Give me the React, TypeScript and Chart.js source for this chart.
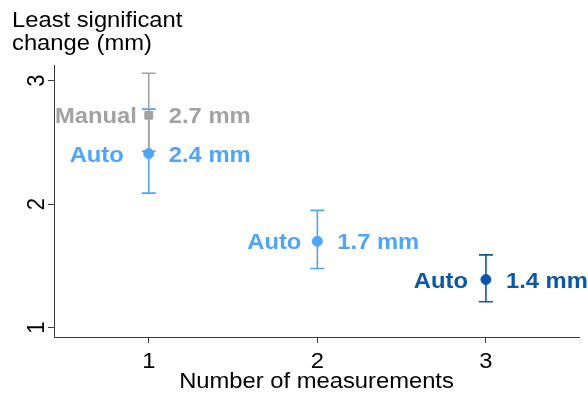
import React, { useEffect, useRef } from "react";
import { Chart, registerables } from "chart.js";

Chart.register(...registerables);

// ---- data ----
const xTicks = [1, 2, 3];
const yTicks = [1, 2, 3];

const autoX = [1, 2, 3];
const autoMean = [2.41, 1.70, 1.39];
const autoLow = [2.09, 1.48, 1.21];
const autoHigh = [2.77, 1.95, 1.59];
const autoValueLabels = ["2.4 mm", "1.7 mm", "1.4 mm"];

const manualX = [1];
const manualMean = [2.72];
const manualLow = [2.43];
const manualHigh = [3.06];
const manualValueLabels = ["2.7 mm"];

const yTitleLines = ["Least significant", "change (mm)"];
const xTitle = "Number of measurements";

// ---- style ----
const GREY = "#a2a2a2";
const LIGHT = "#4ea6fb";
const DARK = "#0b56a6";
const autoColors = [LIGHT, LIGHT, DARK];
const autoLeftGap = [25, 16, 18];
const manualLeftGap = [12];
const FONT = "'Liberation Sans', Arial, sans-serif";
const SX = 1.08;

function stretchedText(ctx: CanvasRenderingContext2D, text: string, x: number, y: number, align: CanvasTextAlign, font: string, color: string) {
  ctx.save();
  ctx.font = font;
  ctx.fillStyle = color;
  ctx.textBaseline = "alphabetic";
  ctx.translate(x, y);
  ctx.scale(SX, 1);
  ctx.textAlign = align;
  ctx.fillText(text, 0, 0);
  ctx.restore();
}

const overlayPlugin = {
  id: "overlay",
  beforeDatasetsDraw(chart: any) {
    const ctx: CanvasRenderingContext2D = chart.ctx;
    const xs = chart.scales.x;
    const ys = chart.scales.y;
    const bar = (x: number, lo: number, hi: number, color: string) => {
      const px = xs.getPixelForValue(x);
      const pl = ys.getPixelForValue(lo);
      const ph = ys.getPixelForValue(hi);
      ctx.save();
      ctx.strokeStyle = color;
      ctx.lineWidth = 1.6;
      ctx.beginPath();
      ctx.moveTo(px, pl);
      ctx.lineTo(px, ph);
      ctx.moveTo(px - 7, pl);
      ctx.lineTo(px + 7, pl);
      ctx.moveTo(px - 7, ph);
      ctx.lineTo(px + 7, ph);
      ctx.stroke();
      ctx.restore();
    };
    autoX.forEach((x, i) => bar(x, autoLow[i], autoHigh[i], autoColors[i]));
    manualX.forEach((x, i) => bar(x, manualLow[i], manualHigh[i], GREY));
  },
  afterDraw(chart: any) {
    const ctx: CanvasRenderingContext2D = chart.ctx;
    const xs = chart.scales.x;
    const ys = chart.scales.y;
    const ca = chart.chartArea;
    const reg = `22px ${FONT}`;
    const bold = `bold 22px ${FONT}`;

    // title
    stretchedText(ctx, yTitleLines[0], 12, 27, "left", reg, "#000");
    stretchedText(ctx, yTitleLines[1], 12, 50, "left", reg, "#000");

    // y tick labels (rotated)
    yTicks.forEach((v) => {
      const py = ys.getPixelForValue(v);
      ctx.save();
      ctx.font = reg;
      ctx.fillStyle = "#000";
      ctx.translate(44, py);
      ctx.scale(SX, 1);
      ctx.rotate(-Math.PI / 2);
      ctx.textAlign = "center";
      ctx.textBaseline = "alphabetic";
      ctx.fillText(String(v), 0, 0);
      ctx.restore();
    });

    // x tick labels
    xTicks.forEach((v) => {
      const px = xs.getPixelForValue(v);
      stretchedText(ctx, String(v), px, 368, "center", reg, "#000");
    });

    // x title
    stretchedText(ctx, xTitle, (ca.left + ca.right) / 2, 388, "center", reg, "#000");

    // point labels
    const lab = (x: number, y: number, left: string, gap: number, right: string, color: string) => {
      const px = xs.getPixelForValue(x);
      const py = ys.getPixelForValue(y) + 8;
      stretchedText(ctx, left, px - gap, py, "right", bold, color);
      stretchedText(ctx, right, px + 20, py, "left", bold, color);
    };
    autoX.forEach((x, i) => lab(x, autoMean[i], "Auto", autoLeftGap[i], autoValueLabels[i], autoColors[i]));
    manualX.forEach((x, i) => lab(x, manualMean[i], "Manual", manualLeftGap[i], manualValueLabels[i], GREY));
  },
};

export default function App() {
  const ref = useRef<HTMLCanvasElement>(null);
  useEffect(() => {
    if (!ref.current) return;
    const axisColor = "#3a3a3a";
    const chart = new Chart(ref.current, {
      type: "scatter",
      data: {
        datasets: [
          {
            label: "Auto",
            data: autoX.map((x, i) => ({ x, y: autoMean[i] })),
            pointBackgroundColor: autoColors,
            pointBorderColor: autoColors,
            pointRadius: 5,
            pointStyle: "circle",
          },
          {
            label: "Manual",
            data: manualX.map((x, i) => ({ x, y: manualMean[i] })),
            pointBackgroundColor: GREY,
            pointBorderColor: GREY,
            pointRadius: 5.5,
            pointStyle: "rect",
          },
        ],
      },
      options: {
        responsive: false,
        animation: false,
        layout: { padding: { top: 65, right: 9, left: 0, bottom: 0 } },
        plugins: { legend: { display: false }, tooltip: { enabled: false } },
        scales: {
          x: {
            type: "linear",
            min: 0.438,
            max: 3.552,
            afterBuildTicks: (s: any) => {
              s.ticks = xTicks.map((v) => ({ value: v }));
            },
            afterFit: (s: any) => {
              s.height = 56;
            },
            ticks: { display: false },
            grid: { display: true, drawOnChartArea: false, drawTicks: true, tickLength: 6, color: axisColor, lineWidth: 1 },
            border: { display: true, color: axisColor, width: 1 },
          },
          y: {
            type: "linear",
            min: 0.925,
            max: 3.127,
            afterBuildTicks: (s: any) => {
              s.ticks = yTicks.map((v) => ({ value: v }));
            },
            afterFit: (s: any) => {
              s.width = 54;
            },
            ticks: { display: false },
            grid: { display: true, drawOnChartArea: false, drawTicks: true, tickLength: 6, color: axisColor, lineWidth: 1 },
            border: { display: true, color: axisColor, width: 1 },
          },
        },
      },
      plugins: [overlayPlugin],
    });
    return () => chart.destroy();
  }, []);
  return (
    <div style={{ position: "absolute", left: 0, top: 0, width: 588, height: 393, background: "#fff" }}>
      <canvas ref={ref} width={588} height={393} style={{ display: "block" }} />
    </div>
  );
}
